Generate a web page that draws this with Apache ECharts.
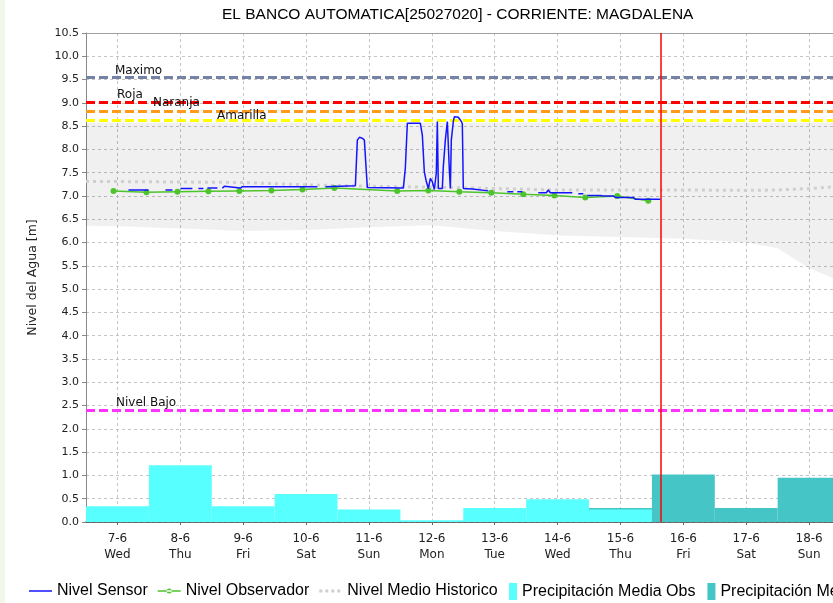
<!DOCTYPE html>
<html>
<head>
<meta charset="utf-8">
<title>EL BANCO AUTOMATICA</title>
<script src="https://cdn.jsdelivr.net/npm/echarts@6/dist/echarts.min.js"></script>
<style>
  html, body { margin: 0; padding: 0; background: #fff; }
  #chart { width: 833px; height: 603px; }
  #borde { position: absolute; left: 0; top: 0; width: 5px; height: 603px; background: #f1f8ea; }
</style>
</head>
<body>
<div id="chart"></div>
<div id="borde"></div>
<script>
// junio 2017, horas locales "dd hh:mm"
var mes = '2017-06-';
var diasSemana = ['Sun', 'Mon', 'Tue', 'Wed', 'Thu', 'Fri', 'Sat'];

// Nivel sensor (null = sin dato)
var sensorTiempo = ['07 04:12', '07 11:50', '07 15:00', '07 18:19', '07 20:59', '07 22:30', '08 00:02', '08 04:37',
  '08 05:45', '08 06:54', '08 08:49', '08 09:30', '08 10:20', '08 14:09', '08 15:00', '08 16:04', '08 16:50',
  '08 17:35', '08 22:56', '08 23:42', '10 04:19', '10 05:50', '10 07:22', '10 18:49', '10 19:34', '10 20:20',
  '10 21:29', '10 22:15', '10 23:01', '10 23:23', '11 13:08', '11 13:53', '11 14:39', '11 19:37', '11 20:23',
  '11 21:08', '11 21:54', '11 22:40', '11 23:26', '12 00:11', '12 00:57', '12 01:43', '12 02:06', '12 02:29',
  '12 04:00', '12 04:23', '12 05:09', '12 05:55', '12 06:18', '12 06:41', '12 07:04', '12 07:26', '12 08:12',
  '12 08:35', '12 10:07', '12 11:16', '12 11:38', '12 12:01', '12 15:27', '12 21:34', '13 01:00', '13 04:49',
  '13 07:06', '13 07:50', '13 08:37', '13 10:32', '13 13:30', '13 16:38', '13 19:41', '13 20:27', '13 21:13',
  '14 05:37', '14 06:45', '14 07:54', '14 09:49', '14 10:30', '14 11:20', '14 16:17', '14 17:26', '14 21:15',
  '14 22:01', '15 04:53', '15 05:39', '15 15:11'];
var sensorNivel = [7.13, 7.13, null, 7.13, 7.13, null, 7.16, 7.16,
  null, 7.16, 7.16, null, 7.17, 7.17, null, 7.17, 7.21,
  7.17, 7.17, 7.20, 7.20, null, 7.20, 7.22, 8.20, 8.26,
  8.24, 8.20, 7.50, 7.18, 7.17, 7.60, 8.56, 8.56, 8.30,
  7.52, 7.31, 7.16, 7.38, 7.31, 7.14, 7.50, 8.60, 7.16,
  7.16, 7.63, 8.20, 8.60, 8.60, 7.56, 7.16, 8.20, 8.60,
  8.70, 8.69, 8.60, 8.55, 7.16, 7.15, 7.11, null, 7.09,
  7.09, null, 7.09, 7.09, null, 7.07, 7.07, 7.13, 7.07,
  7.07, null, 7.05, 7.05, null, 7.01, 7.01, 7.00, 7.00,
  6.97, 6.97, 6.93, 6.93];

// Nivel observador
var obsTiempo = ['06 22:30', '07 11:04', '07 22:54', '08 10:44', '08 22:33', '09 10:46', '09 22:36', '10 10:48',
  '11 10:48', '11 22:40', '12 10:30', '12 22:42', '13 10:54', '13 22:46', '14 10:34', '14 22:48', '15 10:38'];
var obsNivel = [7.11, 7.08, 7.09, 7.10, 7.11, 7.12, 7.14, 7.17,
  7.11, 7.12, 7.09, 7.07, 7.04, 7.01, 6.97, 7.00, 6.90];

// Historico: medio y banda min/max
var histTiempo = ['06 12:00', '07 00:00', '08 00:00', '09 00:00', '10 00:00', '11 00:00', '12 00:00', '13 00:00',
  '14 00:00', '15 00:00', '16 00:00', '17 00:00', '17 12:00', '18 00:00', '19 00:00'];
var histMedio = [7.31, 7.31, 7.30, 7.29, 7.24, 7.21, 7.19, 7.16, 7.13, 7.13, 7.13, 7.12, 7.13, 7.16, 7.26];
var histMin = [6.36, 6.35, 6.30, 6.25, 6.27, 6.33, 6.37, 6.25, 6.15, 6.12, 6.08, 6.00, 5.88, 5.45, 4.90];
var histMax = [8.58, 8.58, 8.58, 8.58, 8.58, 8.58, 8.58, 8.58, 8.58, 8.58, 8.58, 8.58, 8.58, 8.58, 8.58];

// Precipitacion media diaria
var precipObsDia = ['07', '08', '09', '10', '11', '12', '13', '14', '15'];
var precipObs = [0.34, 1.22, 0.34, 0.60, 0.27, 0.04, 0.30, 0.49, 0.27];
var precipPronDia = ['15', '16', '17', '18'];
var precipPron = [0.30, 1.02, 0.30, 0.95];

// Umbrales
var umbralNombre = ['Maximo', 'Roja', 'Naranja', 'Amarilla', 'Nivel Bajo'];
var umbralNivel = [9.55, 9.02, 8.83, 8.63, 2.39];
var ahora = '15 15:11';

var umbralColor = ['#7482a8', '#ff0000', '#ff9a1a', '#ffff00', '#ff33ff'];
var umbralTexto = [[29, 0], [31, 1], [67, 2], [131, -2], [30, 2]];

function fecha(s) {
  return mes + s;
}
function pares(tiempos, valores) {
  return tiempos.map(function (t, i) {
    return [fecha(t), valores[i] == null ? '-' : valores[i]];
  });
}

var medioDia = 12 * 3600 * 1000;
function barraDia(params, api) {
  var a = api.coord([api.value(0) - medioDia, api.value(1)]);
  var b = api.coord([api.value(0) + medioDia, 0]);
  return {
    type: 'rect',
    shape: { x: a[0], y: a[1], width: b[0] - a[0], height: b[1] - a[1] },
    style: api.style()
  };
}

var fuenteEje = 'DejaVu Sans';
var grilla = { show: true, lineStyle: { color: '#c4c4c4', type: [3, 3], width: 1 } };
var xMin = fecha('06 12:00');
var xMax = fecha('18 09:07');

var lineasUmbral = umbralNivel.map(function (v, i) {
  return {
    yAxis: v,
    lineStyle: { color: umbralColor[i], type: [9, 4], width: 3 },
    label: {
      show: true, formatter: umbralNombre[i], position: 'insideStartTop', distance: umbralTexto[i],
      color: '#111', fontFamily: fuenteEje, fontSize: 12
    }
  };
});
lineasUmbral.push({
  xAxis: fecha(ahora),
  lineStyle: { color: '#ff0000', type: 'solid', width: 1.5 },
  label: { show: false }
});

// iconos de leyenda
var iconoLinea = 'path://M0,8h23v1.5h-23z';
var iconoPunto = 'path://M0,8h23v1.5h-23zM9,8.75a2.5,2.5 0 1,0 5,0a2.5,2.5 0 1,0 -5,0z';
var iconoPuntos = 'path://M0,7h3v3h-3zM6,7h3v3h-3zM12,7h3v3h-3zM18,7h3v3h-3zM22.9,7h0.1v3h-0.1z';

var myChart = echarts.init(document.getElementById('chart'));
var option = {
  animation: false,
  backgroundColor: '#fff',
  title: {
    text: 'EL BANCO AUTOMATICA[25027020] - CORRIENTE: MAGDALENA',
    left: 222, top: 7, padding: 0,
    textStyle: { fontFamily: 'Liberation Sans', fontSize: 15.5, fontWeight: 'normal', color: '#000' }
  },
  legend: [{
    left: 29, top: 583, padding: 0, itemWidth: 23, itemHeight: 17, itemGap: 10,
    textStyle: { fontFamily: 'Liberation Sans', fontSize: 16, color: '#000' },
    data: [{ name: 'Nivel Sensor', icon: iconoLinea }, { name: 'Nivel Observador', icon: iconoPunto },
      { name: 'Nivel Medio Historico', icon: iconoPuntos }]
  }, {
    // la leyenda continua fuera del borde derecho, como en el original
    left: 509, top: 583, width: 700, padding: 0, itemWidth: 8, itemHeight: 17, itemGap: 12,
    textStyle: { fontFamily: 'Liberation Sans', fontSize: 16, color: '#000' },
    data: [{ name: 'Precipitación Media Obs', icon: 'rect' }, { name: 'Precipitación Media Pronostico', icon: 'rect' }]
  }],
  grid: { left: 86, top: 33, right: 0, bottom: 81, show: false },
  xAxis: [{
    type: 'time',
    min: xMin, max: xMax,
    minInterval: 24 * 3600 * 1000,
    maxInterval: 24 * 3600 * 1000,
    axisLine: { lineStyle: { color: '#444', width: 1.5 } },
    axisTick: { show: true, length: 3, lineStyle: { color: '#666' } },
    splitLine: grilla,
    axisLabel: {
      showMinLabel: false, showMaxLabel: false,
      fontFamily: fuenteEje, fontSize: 12, lineHeight: 16, color: '#222', margin: 9,
      formatter: function (value) {
        var d = new Date(value);
        if (d.getHours() !== 0 || d.getMinutes() !== 0) return '';
        return d.getDate() + '-' + (d.getMonth() + 1) + '\n' + diasSemana[d.getDay()];
      }
    }
  }, {
    // borde superior del area de trazado
    type: 'time', position: 'top',
    min: xMin, max: xMax,
    axisLine: { show: true, lineStyle: { color: '#a0a0a0', width: 1 } },
    axisTick: { show: false }, axisLabel: { show: false }, splitLine: { show: false }
  }],
  yAxis: {
    type: 'value',
    min: 0, max: 10.5, interval: 0.5,
    name: 'Nivel del Agua [m]',
    nameLocation: 'middle', nameGap: 47,
    nameTextStyle: { fontFamily: fuenteEje, fontSize: 12.5, color: '#222' },
    axisLine: { show: true, lineStyle: { color: '#888' } },
    axisTick: { show: true, length: 4, lineStyle: { color: '#888' } },
    splitLine: grilla,
    axisLabel: {
      fontFamily: fuenteEje, fontSize: 11, color: '#222', margin: 7,
      formatter: function (v) { return v.toFixed(1); }
    }
  },
  series: [{
    name: 'histMin', type: 'line', stack: 'hist', silent: true, symbol: 'none',
    lineStyle: { opacity: 0 },
    data: pares(histTiempo, histMin),
    z: 1
  }, {
    name: 'histRango', type: 'line', stack: 'hist', silent: true, symbol: 'none',
    lineStyle: { opacity: 0 },
    areaStyle: { color: 'rgba(0,0,0,0.06)', opacity: 1 },
    data: histTiempo.map(function (t, i) { return [fecha(t), histMax[i] - histMin[i]]; }),
    z: 1
  }, {
    name: 'Precipitación Media Pronostico', type: 'custom', renderItem: barraDia, clip: true,
    itemStyle: { color: '#45c5c5' },
    data: pares(precipPronDia.map(function (d) { return d + ' 00:00'; }), precipPron),
    z: 2
  }, {
    name: 'Precipitación Media Obs', type: 'custom', renderItem: barraDia, clip: true,
    itemStyle: { color: '#58ffff' },
    data: pares(precipObsDia.map(function (d) { return d + ' 00:00'; }), precipObs),
    z: 3
  }, {
    name: 'Nivel Medio Historico', type: 'line', symbol: 'none',
    lineStyle: { color: '#cfcfcf', width: 3, type: [3, 4] },
    itemStyle: { color: '#cfcfcf' },
    data: pares(histTiempo, histMedio),
    z: 4
  }, {
    name: 'Nivel Observador', type: 'line', symbol: 'circle', symbolSize: 6,
    lineStyle: { color: '#4ec42c', width: 1.5 },
    itemStyle: { color: '#4ec42c' },
    data: pares(obsTiempo, obsNivel),
    z: 5
  }, {
    name: 'Nivel Sensor', type: 'line', symbol: 'none', connectNulls: false,
    lineStyle: { color: '#1414ff', width: 1.5 },
    itemStyle: { color: '#1414ff' },
    data: pares(sensorTiempo, sensorNivel),
    markLine: { symbol: 'none', silent: true, animation: false, data: lineasUmbral },
    z: 6
  }]
};

myChart.setOption(option);
</script>
</body>
</html>
